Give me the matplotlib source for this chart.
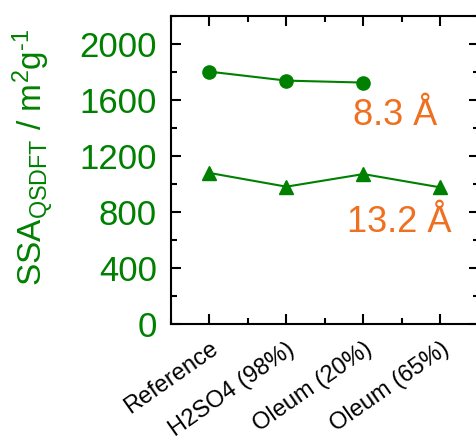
import matplotlib
matplotlib.use('Agg')
from matplotlib import pyplot as plt
from matplotlib.ticker import MultipleLocator, AutoMinorLocator

# data
samples = ['Reference', 'H2SO4 (98%)', 'Oleum (20%)', 'Oleum (65%)']
ssa_83 = [1802, 1738, 1724]
ssa_132 = [1079, 981, 1071, 976]
labels_pore = ['8.3 Å', '13.2 Å']

green = '#008000'
orange = '#EE7020'

plt.rcParams['font.family'] = ['Liberation Sans', 'DejaVu Sans']
plt.rcParams['mathtext.fontset'] = 'custom'
plt.rcParams['mathtext.rm'] = 'Liberation Sans'
plt.rcParams['mathtext.it'] = 'Liberation Sans'

fig = plt.figure(figsize=(4.76, 4.41), dpi=100)
ax = fig.add_axes([0.359, 0.265, 0.647, 0.699])

x1 = list(range(len(ssa_83)))
x2 = list(range(len(ssa_132)))
ax.plot(x1, ssa_83, '-o', color=green, lw=1.5, ms=9.5)
ax.plot(x2, ssa_132, '-^', color=green, lw=1.5, ms=10)

ax.text(2.41, 1490, labels_pore[0], color=orange, fontsize=26, ha='center', va='center')
ax.text(2.47, 725, labels_pore[1], color=orange, fontsize=26, ha='center', va='center')

ax.set_xlim(-0.5, 3.5)
ax.set_ylim(0, 2200)
ax.set_xticks(x2)
ax.set_xticklabels(samples, rotation=35, ha='right', rotation_mode='anchor', fontsize=17)
ax.xaxis.set_minor_locator(AutoMinorLocator(2))
ax.yaxis.set_major_locator(MultipleLocator(400))
ax.yaxis.set_minor_locator(MultipleLocator(200))
ax.tick_params(which='both', direction='in', top=True, right=True, width=1.5)
ax.tick_params(which='major', length=7)
ax.tick_params(which='minor', length=4)
ax.tick_params(axis='y', labelsize=25, labelcolor=green, pad=10)
ax.tick_params(axis='x', pad=10)
for s in ax.spines.values():
    s.set_linewidth(1.5)

ax.set_ylabel(r'SSA$_{\mathregular{QSDFT}}$ / m$^{\mathregular{2}}$g$^{\text{-1}}$',
              color=green, fontsize=24)
ax.yaxis.set_label_coords(-0.372, 0.54)

plt.savefig('out.png', dpi=100)
